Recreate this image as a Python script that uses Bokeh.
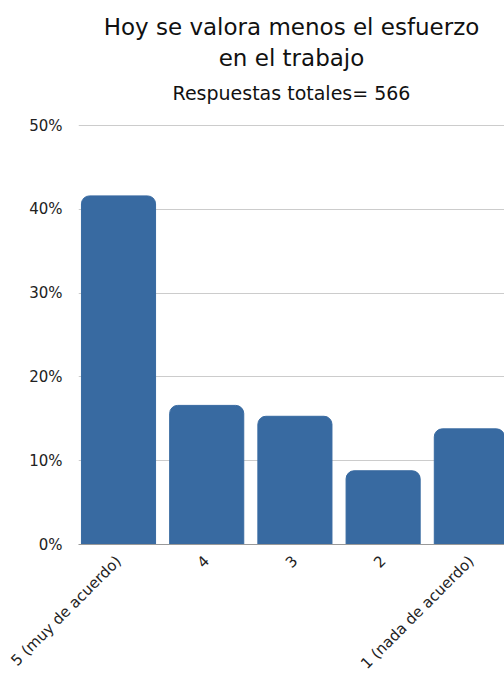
from math import pi
from bokeh.plotting import figure
from bokeh.models import Range1d, FixedTicker, NumeralTickFormatter, Title, ColumnDataSource
from bokeh.embed import file_html
from bokeh.resources import INLINE

categories = ["5 (muy de acuerdo)", "4", "3", "2", "1 (nada de acuerdo)"]
values = [0.416, 0.166, 0.153, 0.088, 0.138]
y_ticks = [0, 0.1, 0.2, 0.3, 0.4, 0.5]

FONT = "DejaVu Sans"
positions = list(range(len(categories)))
src = ColumnDataSource(dict(x=positions, top=values))

p = figure(width=504, height=682, output_backend="svg", toolbar_location=None,
           x_range=Range1d(-0.4535, 4.376), y_range=Range1d(0, 0.5012),
           min_border_left=78, min_border_right=0, min_border_bottom=120, min_border_top=122)
p.vbar(x="x", top="top", width=0.84, source=src, color="#386aa1",
       border_radius=(8, 8, 0, 0))

p.add_layout(Title(text="Respuestas totales= 566", align="center", vertical_align="top",
                   text_font=FONT, text_font_size="19px", text_font_style="normal",
                   text_color="#111111", standoff=37), "above")
p.add_layout(Title(text="en el trabajo", align="center", vertical_align="top",
                   text_font=FONT, text_font_size="23px", text_font_style="normal",
                   text_color="#111111", standoff=-19), "above")
p.add_layout(Title(text="Hoy se valora menos el esfuerzo", align="center", vertical_align="top",
                   text_font=FONT, text_font_size="23px", text_font_style="normal",
                   text_color="#111111", standoff=26), "above")

p.xaxis.ticker = FixedTicker(ticks=positions)
p.xaxis.major_label_overrides = {i: c for i, c in enumerate(categories)}
p.xaxis.major_label_orientation = pi / 4
p.xaxis.major_label_text_font = FONT
p.xaxis.major_label_text_font_size = "15px"
p.xaxis.major_label_text_color = "#222222"
p.xaxis.major_tick_line_color = None
p.xaxis.minor_tick_line_color = None
p.xaxis.axis_line_color = "#999999"
p.xaxis.major_label_standoff = 8

p.yaxis.ticker = FixedTicker(ticks=y_ticks)
p.yaxis.formatter = NumeralTickFormatter(format="0%")
p.yaxis.major_label_text_font = FONT
p.yaxis.major_label_text_font_size = "15px"
p.yaxis.major_label_text_color = "#222222"
p.yaxis.major_tick_line_color = None
p.yaxis.minor_tick_line_color = None
p.yaxis.axis_line_color = None
p.yaxis.major_label_standoff = 10

p.xgrid.grid_line_color = None
p.ygrid.grid_line_color = "#cccccc"
p.outline_line_color = None

open("out.html", "w").write(file_html(p, INLINE))
